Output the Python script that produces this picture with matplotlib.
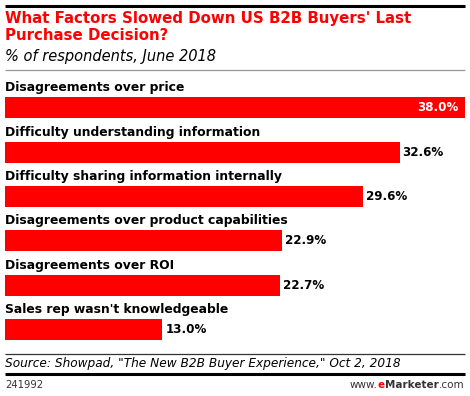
import matplotlib
matplotlib.use("Agg")
import matplotlib.pyplot as plt
from matplotlib.lines import Line2D

categories = [
    "Disagreements over price",
    "Difficulty understanding information",
    "Difficulty sharing information internally",
    "Disagreements over product capabilities",
    "Disagreements over ROI",
    "Sales rep wasn't knowledgeable",
]
values = [38.0, 32.6, 29.6, 22.9, 22.7, 13.0]
value_labels = ["38.0%", "32.6%", "29.6%", "22.9%", "22.7%", "13.0%"]

W, H = 470, 396
DPI = 100
RED = "#FF0000"
FONT = "DejaVu Sans"

fig = plt.figure(figsize=(W / DPI, H / DPI), dpi=DPI)
fig.patch.set_facecolor("white")

def fx(px):
    return px / W

def fy(py):
    return 1 - py / H

# Axes placement (pixels)
ax_left, ax_right = 5, 465
ax_top, ax_bottom = 86, 352
ax = fig.add_axes([fx(ax_left), fy(ax_bottom), fx(ax_right - ax_left), (ax_bottom - ax_top) / H])

n = len(categories)
spacing_px = 44.3
first_center_px = 108
unit = spacing_px
ylim_top = -(first_center_px - ax_top) / unit
ylim_bottom = (ax_bottom - first_center_px) / unit
ax.set_ylim(ylim_bottom, ylim_top)
ax.set_xlim(0, 38.0)

ypos = list(range(n))
bar_h = 21 / unit
ax.barh(ypos, values, height=bar_h, color=RED, edgecolor="none")
ax.axis("off")

for i, (cat, v, lab) in enumerate(zip(categories, values, value_labels)):
    ax.text(0, i - 20 / unit, cat, ha="left", va="center", fontsize=8.95,
            fontweight="bold", family=FONT, color="black")
    if v >= 35:
        ax.annotate(lab, xy=(v, i), xytext=(-6, 0), textcoords="offset pixels",
                    ha="right", va="center", fontsize=8.6, fontweight="bold",
                    family=FONT, color="white")
    else:
        ax.annotate(lab, xy=(v, i), xytext=(3, 0), textcoords="offset pixels",
                    ha="left", va="center", fontsize=8.6, fontweight="bold",
                    family=FONT, color="black")

# Lines
def hline(py, lw, color):
    fig.add_artist(Line2D([fx(5), fx(465)], [fy(py), fy(py)], transform=fig.transFigure,
                          color=color, linewidth=lw, solid_capstyle="butt"))

hline(6, 2.2, "black")
hline(70, 0.9, "#999999")
hline(354, 0.9, "#333333")
hline(374, 2.2, "black")

# Title
fig.text(fx(5), fy(19), "What Factors Slowed Down US B2B Buyers' Last", ha="left", va="center",
         fontsize=10.85, fontweight="bold", color=RED, family=FONT)
fig.text(fx(5), fy(36), "Purchase Decision?", ha="left", va="center",
         fontsize=10.85, fontweight="bold", color=RED, family=FONT)
fig.text(fx(5), fy(56), "% of respondents, June 2018", ha="left", va="center",
         fontsize=10.5, style="italic", color="black", family=FONT)

# Footer
fig.text(fx(5), fy(363), 'Source: Showpad, "The New B2B Buyer Experience," Oct 2, 2018',
         ha="left", va="center", fontsize=8.75, style="italic", color="black", family=FONT)
fig.text(fx(5), fy(385), "241992", ha="left", va="center", fontsize=7.2,
         color="#333333", family=FONT)

FS = 7.5
t1 = fig.text(fx(464), fy(385), ".com", ha="right", va="center", fontsize=FS,
              color="#333333", family=FONT)
fig.canvas.draw()
r = fig.canvas.get_renderer()
bb = t1.get_window_extent(r)
t2 = fig.text(bb.x0 / W, fy(385), "Marketer", ha="right", va="center", fontsize=FS,
              fontweight="bold", color="#333333", family=FONT)
bb2 = t2.get_window_extent(r)
t3 = fig.text(bb2.x0 / W, fy(385), "e", ha="right", va="center", fontsize=FS,
              fontweight="bold", color=RED, family=FONT)
bb3 = t3.get_window_extent(r)
fig.text(bb3.x0 / W, fy(385), "www.", ha="right", va="center", fontsize=FS,
         color="#333333", family=FONT)

fig.savefig("out.png", dpi=DPI, facecolor="white")
